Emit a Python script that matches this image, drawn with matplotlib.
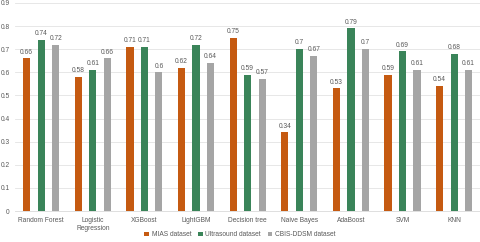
import numpy as np
import matplotlib
matplotlib.use("Agg")
import matplotlib.pyplot as plt

models = ["Random Forest", "Logistic\nRegression", "XGBoost", "LightGBM",
          "Decision tree", "Naive Bayes", "AdaBoost", "SVM", "KNN"]
mias = [0.66, 0.58, 0.71, 0.62, 0.75, 0.34, 0.53, 0.59, 0.54]
ultrasound = [0.74, 0.61, 0.71, 0.72, 0.59, 0.7, 0.79, 0.69, 0.68]
cbis = [0.72, 0.66, 0.6, 0.64, 0.57, 0.67, 0.7, 0.61, 0.61]

series = [("MIAS dataset", mias, "#C55A11"),
          ("Ultrasound dataset", ultrasound, "#3A8459"),
          ("CBIS-DDSM dataset", cbis, "#A5A5A5")]

txt = "#595959"
plt.rcParams['font.family'] = ['Liberation Sans', 'DejaVu Sans']

fig = plt.figure(figsize=(4.8, 2.42), dpi=100)
ax = fig.add_axes([0.032, 0.128, 0.968, 0.86])

x = np.arange(len(models))
step = 0.28
width = 0.14
for i, (name, vals, col) in enumerate(series):
    pos = x + (i - 1) * step
    bars = ax.bar(pos, vals, width, color=col, label=name, zorder=3)
    for b, v in zip(bars, vals):
        ax.text(b.get_x() + b.get_width() / 2, v + 0.012, f"{v:g}",
                ha="center", va="bottom", fontsize=4.8, color=txt)

ax.set_xlim(-0.5, len(models) - 0.5)
ax.set_ylim(0, 0.9)
ax.set_yticks(np.arange(0, 0.91, 0.1))
ax.set_yticklabels(["0"] + [f"{v:.1f}" for v in np.arange(0.1, 0.91, 0.1)])
ax.set_xticks(x)
ax.set_xticklabels(models)
ax.grid(axis="y", color="#E3E3E3", linewidth=0.6, zorder=0)
for s in ["top", "right", "left"]:
    ax.spines[s].set_visible(False)
ax.spines["bottom"].set_color("#D9D9D9")
ax.spines["bottom"].set_linewidth(0.6)
ax.tick_params(axis="both", length=0, labelsize=4.8, colors=txt, pad=4)

fig.legend(loc="lower center", bbox_to_anchor=(0.5, -0.01), ncol=3,
           frameon=False, fontsize=4.8, labelcolor=txt, handlelength=0.7,
           handleheight=0.7, handletextpad=0.4, columnspacing=1.0)

fig.savefig("out.png", dpi=100)
